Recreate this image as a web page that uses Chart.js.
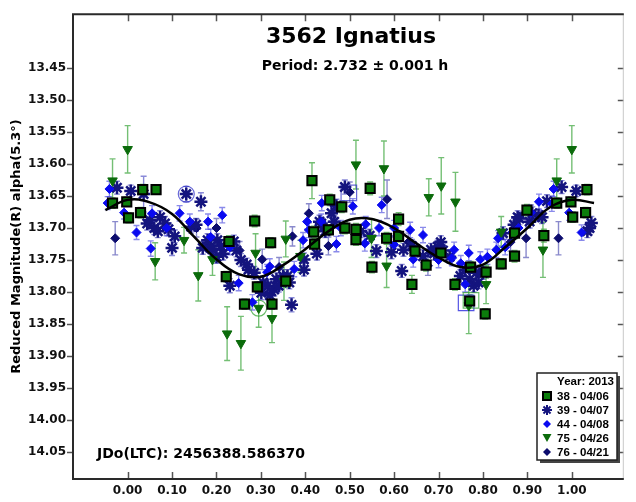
<!DOCTYPE html>
<html>
<head>
<meta charset="utf-8">
<script src="https://cdn.jsdelivr.net/npm/chart.js@4.4.0/dist/chart.umd.min.js"></script>
<style>
html, body { margin: 0; padding: 0; background: #fff; }
#wrap { width: 636px; height: 502px; position: relative; }
</style>
</head>
<body>
<div id="wrap"><canvas id="lc"></canvas></div>
<script>
// Fázová křivka: [fáze, redukovaná magnituda, chyba]
const s38 = [
    [-0.034, 13.661, 0.008], [-0.002, 13.659, 0.007], [0.002, 13.684, 0.008], [0.029, 13.676, 0.008],
    [0.034, 13.640, 0.008], [0.064, 13.640, 0.007], [0.222, 13.776, 0.008], [0.228, 13.721, 0.009],
    [0.263, 13.819, 0.008], [0.286, 13.689, 0.009], [0.292, 13.792, 0.008], [0.322, 13.723, 0.008],
    [0.325, 13.819, 0.008], [0.356, 13.783, 0.010], [0.415, 13.626, 0.028], [0.419, 13.706, 0.009],
    [0.421, 13.725, 0.009], [0.452, 13.703, 0.008], [0.455, 13.656, 0.009], [0.482, 13.667, 0.009],
    [0.489, 13.700, 0.009], [0.514, 13.702, 0.009], [0.514, 13.718, 0.009], [0.546, 13.638, 0.010],
    [0.550, 13.761, 0.009], [0.583, 13.716, 0.009], [0.610, 13.713, 0.009], [0.610, 13.686, 0.010],
    [0.640, 13.788, 0.014], [0.647, 13.736, 0.009], [0.672, 13.758, 0.009], [0.705, 13.739, 0.010],
    [0.737, 13.788, 0.009], [0.770, 13.814, 0.010], [0.772, 13.761, 0.009], [0.805, 13.834, 0.008],
    [0.807, 13.769, 0.009], [0.841, 13.756, 0.008], [0.871, 13.744, 0.009], [0.871, 13.708, 0.009],
    [0.899, 13.672, 0.009], [0.937, 13.712, 0.010], [0.966, 13.661, 0.008], [0.998, 13.659, 0.007],
    [1.002, 13.683, 0.008], [1.031, 13.676, 0.008], [1.034, 13.640, 0.008]
];
const s39 = [
    [-0.024, 13.637, 0.010], [0.007, 13.642, 0.009], [0.036, 13.647, 0.028], [0.044, 13.693, 0.010],
    [0.050, 13.688, 0.010], [0.060, 13.700, 0.010], [0.068, 13.705, 0.010], [0.073, 13.683, 0.010],
    [0.084, 13.693, 0.011], [0.092, 13.702, 0.010], [0.100, 13.731, 0.012], [0.106, 13.713, 0.010],
    [0.132, 13.647, 0.012], [0.143, 13.698, 0.010], [0.154, 13.695, 0.010], [0.165, 13.659, 0.014],
    [0.169, 13.731, 0.010], [0.180, 13.719, 0.010], [0.187, 13.729, 0.011], [0.190, 13.733, 0.010],
    [0.200, 13.745, 0.010], [0.202, 13.719, 0.010], [0.210, 13.728, 0.010], [0.215, 13.740, 0.010],
    [0.230, 13.790, 0.011], [0.239, 13.721, 0.010], [0.245, 13.735, 0.010], [0.255, 13.750, 0.010],
    [0.268, 13.757, 0.010], [0.272, 13.765, 0.010], [0.285, 13.770, 0.010], [0.301, 13.801, 0.011],
    [0.305, 13.785, 0.010], [0.315, 13.790, 0.010], [0.320, 13.805, 0.010], [0.330, 13.796, 0.010],
    [0.335, 13.780, 0.010], [0.340, 13.790, 0.010], [0.350, 13.775, 0.010], [0.360, 13.775, 0.010],
    [0.364, 13.785, 0.010], [0.369, 13.820, 0.011], [0.397, 13.749, 0.010], [0.397, 13.765, 0.010],
    [0.426, 13.740, 0.010], [0.432, 13.690, 0.010], [0.436, 13.693, 0.010], [0.445, 13.705, 0.010],
    [0.459, 13.677, 0.012], [0.465, 13.690, 0.010], [0.470, 13.665, 0.010], [0.489, 13.636, 0.011],
    [0.525, 13.705, 0.010], [0.545, 13.712, 0.010], [0.560, 13.736, 0.010], [0.594, 13.738, 0.010],
    [0.617, 13.767, 0.010], [0.621, 13.734, 0.010], [0.640, 13.728, 0.010], [0.665, 13.744, 0.010],
    [0.683, 13.734, 0.010], [0.690, 13.740, 0.010], [0.698, 13.729, 0.010], [0.705, 13.722, 0.010],
    [0.710, 13.735, 0.010], [0.725, 13.745, 0.010], [0.749, 13.775, 0.010], [0.760, 13.765, 0.010],
    [0.770, 13.780, 0.010], [0.779, 13.790, 0.010], [0.785, 13.770, 0.010], [0.790, 13.785, 0.010],
    [0.800, 13.770, 0.010], [0.845, 13.708, 0.010], [0.870, 13.695, 0.010], [0.878, 13.683, 0.010],
    [0.882, 13.685, 0.010], [0.905, 13.690, 0.010], [0.911, 13.677, 0.010], [0.925, 13.680, 0.010],
    [0.933, 13.683, 0.010], [0.944, 13.658, 0.010], [0.977, 13.636, 0.010], [1.010, 13.642, 0.009],
    [1.035, 13.705, 0.010], [1.040, 13.700, 0.010], [1.044, 13.692, 0.010]
];
const s44 = [
    [-0.045, 13.661, 0.010], [-0.041, 13.639, 0.012], [-0.008, 13.676, 0.010], [0.020, 13.707, 0.011],
    [0.052, 13.732, 0.012], [0.055, 13.677, 0.012], [0.088, 13.700, 0.012], [0.117, 13.677, 0.012],
    [0.140, 13.690, 0.012], [0.181, 13.690, 0.012], [0.187, 13.714, 0.012], [0.213, 13.680, 0.012],
    [0.230, 13.730, 0.012], [0.250, 13.786, 0.012], [0.281, 13.816, 0.012], [0.314, 13.769, 0.012],
    [0.320, 13.760, 0.012], [0.375, 13.764, 0.012], [0.395, 13.719, 0.012], [0.404, 13.690, 0.012],
    [0.408, 13.703, 0.012], [0.436, 13.690, 0.012], [0.437, 13.661, 0.012], [0.470, 13.725, 0.012],
    [0.480, 13.700, 0.012], [0.507, 13.666, 0.012], [0.534, 13.724, 0.012], [0.536, 13.694, 0.012],
    [0.566, 13.700, 0.012], [0.572, 13.664, 0.012], [0.600, 13.726, 0.012], [0.600, 13.700, 0.012],
    [0.636, 13.703, 0.012], [0.643, 13.749, 0.012], [0.665, 13.711, 0.012], [0.700, 13.750, 0.012],
    [0.730, 13.747, 0.012], [0.735, 13.734, 0.012], [0.750, 13.755, 0.012], [0.760, 13.788, 0.012],
    [0.768, 13.739, 0.012], [0.794, 13.749, 0.012], [0.810, 13.745, 0.012], [0.830, 13.734, 0.012],
    [0.834, 13.716, 0.012], [0.850, 13.730, 0.012], [0.867, 13.706, 0.012], [0.880, 13.700, 0.012],
    [0.908, 13.676, 0.012], [0.926, 13.659, 0.012], [0.955, 13.662, 0.012], [0.959, 13.639, 0.012],
    [0.994, 13.676, 0.012], [1.022, 13.707, 0.012]
];
const s75 = [
    [-0.034, 13.626, 0.034], [0.000, 13.577, 0.037], [0.062, 13.752, 0.029], [0.127, 13.719, 0.020],
    [0.159, 13.774, 0.040], [0.191, 13.749, 0.025], [0.224, 13.865, 0.042], [0.255, 13.880, 0.042],
    [0.288, 13.739, 0.030], [0.295, 13.825, 0.030], [0.325, 13.841, 0.038], [0.352, 13.783, 0.030],
    [0.356, 13.717, 0.028], [0.389, 13.744, 0.025], [0.514, 13.601, 0.038], [0.549, 13.716, 0.030],
    [0.577, 13.607, 0.043], [0.583, 13.759, 0.034], [0.678, 13.652, 0.029], [0.706, 13.634, 0.044],
    [0.738, 13.659, 0.046], [0.768, 13.821, 0.044], [0.807, 13.788, 0.030], [0.841, 13.706, 0.024],
    [0.935, 13.734, 0.043], [0.966, 13.626, 0.034], [1.000, 13.577, 0.037]
];
const s76 = [
    [-0.028, 13.716, 0.026], [0.155, 13.700, 0.014], [0.200, 13.700, 0.015], [0.252, 13.735, 0.014],
    [0.303, 13.749, 0.016], [0.341, 13.761, 0.015], [0.371, 13.713, 0.015], [0.408, 13.677, 0.015],
    [0.452, 13.728, 0.014], [0.500, 13.644, 0.016], [0.584, 13.655, 0.030], [0.632, 13.722, 0.014],
    [0.676, 13.759, 0.015], [0.790, 13.772, 0.014], [0.862, 13.722, 0.014], [0.897, 13.716, 0.030],
    [0.970, 13.716, 0.026]
];

// Fourierův fit
const fitPhase = [-0.05, 0.00, 0.05, 0.10, 0.15, 0.20, 0.25, 0.30, 0.35, 0.40, 0.45, 0.50,
                  0.55, 0.60, 0.65, 0.70, 0.75, 0.80, 0.85, 0.90, 0.95, 1.00, 1.05];
const fitMag = [13.672, 13.656, 13.660, 13.678, 13.714, 13.749, 13.772, 13.776, 13.758, 13.733, 13.706, 13.687,
                13.686, 13.700, 13.724, 13.746, 13.761, 13.757, 13.730, 13.700, 13.668, 13.656, 13.661];

// Označené body (kroužky / čtverečky)
const markedCircles = [[0.132, 13.647], [0.295, 13.825]];
const markedSquares = [[0.498, 13.645], [0.762, 13.817], [0.773, 13.813]];

const xTicks = [0.00, 0.10, 0.20, 0.30, 0.40, 0.50, 0.60, 0.70, 0.80, 0.90, 1.00];
const yTicks = [13.45, 13.50, 13.55, 13.60, 13.65, 13.70, 13.75, 13.80, 13.85, 13.90, 13.95, 14.00, 14.05];

const sessions = [
    { label: '38 - 04/06', data: s38, style: 'rect', radius: 6.5, fill: '#0b7d0b', border: '#000', bw: 2, err: 'rgba(70,170,70,0.75)' },
    { label: '39 - 04/07', data: s39, style: 'star', radius: 6.5, fill: '#14147e', border: '#14147e', bw: 2.5, err: 'rgba(60,60,190,0.6)' },
    { label: '44 - 04/08', data: s44, style: 'rectRot', radius: 4.5, fill: '#0a0af0', border: '#0a0af0', bw: 1, err: 'rgba(60,60,220,0.6)' },
    { label: '75 - 04/26', data: s75, style: 'triangle', radius: 5.5, fill: '#0b6b0b', border: '#0b6b0b', bw: 1, err: 'rgba(70,170,70,0.75)', rot: 180 },
    { label: '76 - 04/21', data: s76, style: 'rectRot', radius: 4.5, fill: '#0c0c6e', border: '#0c0c6e', bw: 1, err: 'rgba(60,60,170,0.6)' }
];
const drawOrder = [1, 4, 3, 2, 5];

const toPts = arr => arr.map(([x, y, e]) => ({ x: x, y: y, e: e || 0 }));

const datasets = [{
    type: 'line',
    label: 'fit',
    data: fitPhase.map((p, i) => ({ x: p, y: fitMag[i] })),
    borderColor: '#000',
    borderWidth: 2.5,
    pointRadius: 0,
    tension: 0.4,
    order: 0
}];
sessions.forEach((s, i) => {
    datasets.push({
        type: 'scatter',
        label: s.label,
        data: toPts(s.data),
        pointStyle: s.style,
        pointRadius: s.radius,
        pointRotation: s.rot || 0,
        backgroundColor: s.fill,
        borderColor: s.border,
        borderWidth: s.bw,
        errColor: s.err,
        order: drawOrder[i]
    });
});
datasets.push({
    type: 'scatter', label: 'mc', data: markedCircles.map(([x, y]) => ({ x, y })),
    pointStyle: 'circle', pointRadius: 8, backgroundColor: 'rgba(0,0,0,0)',
    borderColor: ['rgba(40,40,200,0.7)', 'rgba(40,160,40,0.7)'], borderWidth: 1.2, order: 6
});
datasets.push({
    type: 'scatter', label: 'ms', data: markedSquares.map(([x, y]) => ({ x, y })),
    pointStyle: 'rect', pointRadius: 11, backgroundColor: 'rgba(0,0,0,0)',
    borderColor: ['rgba(40,40,200,0.7)', 'rgba(40,40,220,0.8)', 'rgba(40,160,40,0.7)'], borderWidth: 1.2, order: 6
});

// Chybové úsečky s kloboučky
const errorBars = {
    id: 'errorBars',
    beforeDatasetsDraw(chart) {
        const { ctx, chartArea: a, scales: { x, y } } = chart;
        ctx.save();
        ctx.beginPath();
        ctx.rect(a.left, a.top, a.right - a.left, a.bottom - a.top);
        ctx.clip();
        ctx.lineWidth = 1.4;
        chart.data.datasets.forEach(ds => {
            if (!ds.errColor) return;
            ctx.strokeStyle = ds.errColor;
            ds.data.forEach(p => {
                if (!p.e) return;
                const px = x.getPixelForValue(p.x);
                const y1 = y.getPixelForValue(p.y - p.e);
                const y2 = y.getPixelForValue(p.y + p.e);
                ctx.beginPath();
                ctx.moveTo(px, y1); ctx.lineTo(px, y2);
                ctx.moveTo(px - 3, y1); ctx.lineTo(px + 3, y1);
                ctx.moveTo(px - 3, y2); ctx.lineTo(px + 3, y2);
                ctx.stroke();
            });
        });
        ctx.restore();
    }
};

// Rám grafu a ticky (dole/nahoře a vpravo dovnitř, vlevo ven)
const frameTicks = {
    id: 'frameTicks',
    afterDraw(chart) {
        const { ctx, chartArea: a, scales: { x, y } } = chart;
        ctx.save();
        ctx.strokeStyle = '#555';
        ctx.lineWidth = 1.5;
        xTicks.forEach(v => {
            const px = Math.round(x.getPixelForValue(v)) + 0.5;
            ctx.beginPath();
            ctx.moveTo(px, a.top); ctx.lineTo(px, a.top + 7);
            ctx.moveTo(px, a.bottom); ctx.lineTo(px, a.bottom - 7);
            ctx.stroke();
        });
        yTicks.forEach(v => {
            const py = Math.round(y.getPixelForValue(v)) + 0.5;
            ctx.beginPath();
            ctx.moveTo(a.left - 6, py); ctx.lineTo(a.left, py);
            ctx.moveTo(a.right - 6, py); ctx.lineTo(a.right, py);
            ctx.stroke();
        });
        ctx.strokeStyle = '#c8c8c8';
        ctx.lineWidth = 1;
        ctx.beginPath();
        ctx.moveTo(a.right - 0.5, a.top); ctx.lineTo(a.right - 0.5, a.bottom);
        ctx.stroke();
        ctx.strokeStyle = '#2a2a2a';
        ctx.lineWidth = 2;
        ctx.beginPath();
        ctx.moveTo(a.right, a.top); ctx.lineTo(a.left, a.top); ctx.lineTo(a.left, a.bottom); ctx.lineTo(a.right, a.bottom);
        ctx.stroke();
        ctx.restore();
    }
};

function drawMarker(ctx, s, cx, cy) {
    ctx.save();
    ctx.fillStyle = s.fill;
    ctx.strokeStyle = s.border;
    ctx.lineWidth = s.bw;
    ctx.beginPath();
    if (s.style === 'rect') {
        ctx.rect(cx - 4, cy - 4, 8, 8);
        ctx.fill(); ctx.stroke();
    } else if (s.style === 'star') {
        for (let k = 0; k < 4; k++) {
            const ang = k * Math.PI / 4;
            ctx.moveTo(cx - 5 * Math.cos(ang), cy - 5 * Math.sin(ang));
            ctx.lineTo(cx + 5 * Math.cos(ang), cy + 5 * Math.sin(ang));
        }
        ctx.lineWidth = 2;
        ctx.stroke();
    } else if (s.style === 'triangle') {
        ctx.moveTo(cx - 4.5, cy - 4); ctx.lineTo(cx + 4.5, cy - 4); ctx.lineTo(cx, cy + 4);
        ctx.closePath(); ctx.fill();
    } else {
        ctx.moveTo(cx, cy - 4); ctx.lineTo(cx + 4, cy); ctx.lineTo(cx, cy + 4); ctx.lineTo(cx - 4, cy);
        ctx.closePath(); ctx.fill();
    }
    ctx.restore();
}

// Nadpisy, JDo, popisek osy Y a legenda
const texts = {
    id: 'texts',
    afterDraw(chart) {
        const { ctx, chartArea: a } = chart;
        ctx.save();
        ctx.fillStyle = '#000';
        ctx.textBaseline = 'alphabetic';
        ctx.textAlign = 'center';
        ctx.font = 'bold 22px "DejaVu Sans"';
        ctx.fillText('3562 Ignatius', 351, 43);
        ctx.font = 'bold 14px "DejaVu Sans"';
        ctx.fillText('Period: 2.732 \u00b1 0.001 h', 355, 70);
        ctx.textAlign = 'left';
        ctx.font = 'bold 14px "DejaVu Sans"';
        ctx.fillText('JDo(LTC): 2456388.586370', a.left + 24, 458);

        ctx.save();
        ctx.translate(17, (a.top + a.bottom) / 2);
        ctx.rotate(-Math.PI / 2);
        ctx.textAlign = 'center';
        ctx.textBaseline = 'middle';
        ctx.font = 'bold 13px "DejaVu Sans"';
        ctx.fillText('Reduced Magnitude(R) alpha(5.3\u00b0)', 0, 0);
        ctx.restore();

        // legenda
        const lx = 537, ly = 373, lw = 80, lh = 87;
        ctx.fillStyle = '#444';
        ctx.fillRect(lx + 3, ly + 3, lw, lh);
        ctx.fillStyle = '#fff';
        ctx.fillRect(lx, ly, lw, lh);
        ctx.strokeStyle = '#222';
        ctx.lineWidth = 1.5;
        ctx.strokeRect(lx, ly, lw, lh);
        ctx.fillStyle = '#000';
        ctx.font = 'bold 11.5px "Liberation Sans"';
        ctx.textAlign = 'right';
        ctx.fillText('Year: 2013', lx + lw - 3, ly + 12);
        ctx.textAlign = 'left';
        sessions.forEach((s, i) => {
            const cy = ly + 23 + i * 14;
            drawMarker(ctx, s, lx + 10, cy);
            ctx.fillStyle = '#000';
            ctx.fillText(s.label, lx + 20, cy + 4);
        });
        ctx.restore();
    }
};

const tickFont = { family: 'DejaVu Sans', weight: 'bold', size: 12 };

new Chart(document.getElementById('lc'), {
    type: 'scatter',
    data: { datasets: datasets },
    options: {
        responsive: true,
        maintainAspectRatio: false,
        animation: false,
        layout: { padding: { top: 8, right: 1, left: 0, bottom: 0 } },
        plugins: { legend: { display: false }, tooltip: { enabled: false } },
        scales: {
            x: {
                type: 'linear',
                min: -0.123,
                max: 1.117,
                grid: { display: false, drawTicks: false },
                border: { display: false },
                afterBuildTicks: s => { s.ticks = xTicks.map(v => ({ value: v })); },
                afterFit: s => { s.height = 23; },
                ticks: {
                    font: tickFont, color: '#111', padding: 5, maxRotation: 0, autoSkip: false,
                    callback: v => Number(v).toFixed(2)
                }
            },
            y: {
                type: 'linear',
                reverse: true,
                min: 13.366,
                max: 14.092,
                grid: { display: false, drawTicks: false },
                border: { display: false },
                afterBuildTicks: s => { s.ticks = yTicks.map(v => ({ value: v })); },
                afterFit: s => { s.width = 73; },
                ticks: {
                    font: tickFont, color: '#111', padding: 7, autoSkip: false,
                    callback: v => Number(v).toFixed(2)
                }
            }
        }
    },
    plugins: [errorBars, frameTicks, texts]
});
</script>
</body>
</html>
